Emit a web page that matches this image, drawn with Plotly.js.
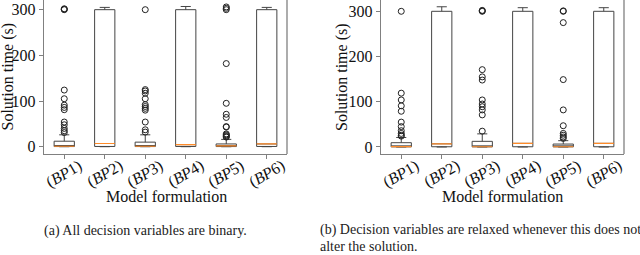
<!DOCTYPE html>
<html>
<head>
<meta charset="utf-8">
<script src="https://cdn.plot.ly/plotly-3.0.1.min.js"></script>
<style>html,body{margin:0;padding:0;background:#fff;}#chart{width:640px;height:255px;}</style>
</head>
<body>
<div id="chart"></div>
<script>
// ---- data ----
const categories = ['BP1', 'BP2', 'BP3', 'BP4', 'BP5', 'BP6'];

// (a) all decision variables binary
const aQ1 = [0.3, 0.5, 0.3, 0.5, 0.3, 0.5];
const aMedian = [1, 7, 1, 4.5, 2, 6];
const aQ3 = [12, 300, 10, 300, 6, 300];
const aLower = [0, 0, 0, 0, 0, 0];
const aUpper = [26, 305, 26, 307, 16, 305];
const aOutliers = [
  [300, 301, 302, 124, 105, 91, 86, 81, 54, 48, 40, 35, 31],
  [],
  [300, 125, 122, 117, 105, 92, 88, 84, 80, 54, 37, 32],
  [],
  [306, 303, 300, 182, 95, 71, 64, 44, 43, 28, 26, 24, 22, 21],
  []
];

// (b) decision variables relaxed
const bQ1 = [0.3, 0.5, 0.3, 0.5, 0.3, 0.5];
const bMedian = [1, 7, 0.5, 8, 0.5, 8];
const bQ3 = [9.5, 300, 12.5, 300, 6.5, 300];
const bLower = [0, 0, 0, 0, 0, 0];
const bUpper = [21, 310, 29, 308, 14, 308];
const bOutliers = [
  [300, 119, 104, 91, 79, 55, 45, 36, 30, 26, 24],
  [],
  [300, 301, 302, 171, 155, 148, 104, 95, 89, 82, 71, 35],
  [],
  [300, 301, 275, 149, 82, 47, 30, 26, 22, 19],
  []
];

const xTitle = 'Model formulation';
const yTitle = 'Solution time (s)';
const captionA = '(a) All decision variables are binary.';
const captionB1 = '(b) Decision variables are relaxed whenever this does not';
const captionB2 = 'alter the solution.';

const tickText = categories.map(c => '(<i>' + c.slice(0, 2) + '</i>' + c.slice(2) + ')');

const boxColor = '#444444';
const medianColor = '#ff8c2a';
const frameColor = '#808080';
const serif = 'Liberation Serif';
const txt = '#111';

function traces(q1, med, q3, lo, up, outl, xa, ya) {
  const ox = [], oy = [];
  outl.forEach((arr, i) => arr.forEach(v => { ox.push(categories[i]); oy.push(v); }));
  return [
    {type: 'box', x: categories, q1: q1, median: med, q3: q3, lowerfence: lo, upperfence: up,
     boxpoints: false, width: 0.5, whiskerwidth: 0.5, fillcolor: 'rgba(0,0,0,0)',
     line: {color: boxColor, width: 1}, xaxis: xa, yaxis: ya, showlegend: false, hoverinfo: 'skip'},
    {type: 'box', x: categories, q1: med, median: med, q3: med, lowerfence: med, upperfence: med,
     boxpoints: false, width: 0.5, whiskerwidth: 0, fillcolor: 'rgba(0,0,0,0)',
     line: {color: medianColor, width: 1.2}, xaxis: xa, yaxis: ya, showlegend: false, hoverinfo: 'skip'},
    {type: 'scatter', mode: 'markers', x: ox, y: oy, xaxis: xa, yaxis: ya, showlegend: false,
     marker: {symbol: 'circle-open', size: 6, color: '#222', line: {width: 1, color: '#222'}},
     hoverinfo: 'skip'}
  ];
}

const data = [].concat(
  traces(aQ1, aMedian, aQ3, aLower, aUpper, aOutliers, 'x', 'y'),
  traces(bQ1, bMedian, bQ3, bLower, bUpper, bOutliers, 'x2', 'y2')
);

function xaxis(domain, anchor) {
  return {
    domain: domain, anchor: anchor, type: 'category', range: [-0.5, 5.5],
    tickmode: 'array', tickvals: categories, showticklabels: false,
    showline: true, linecolor: frameColor, linewidth: 1.3, mirror: false,
    ticks: 'outside', ticklen: 4, tickcolor: frameColor, tickwidth: 1,
    showgrid: false, zeroline: false, automargin: false
  };
}
function yaxis(range, anchor) {
  return {
    domain: [1 - 154 / 255, 1], anchor: anchor, range: range,
    tickvals: [0, 100, 200, 300],
    showline: true, linecolor: frameColor, linewidth: 1.3, mirror: false,
    ticks: 'outside', ticklen: 4, tickcolor: frameColor, tickwidth: 1,
    showgrid: false, zeroline: false,
    tickfont: {family: serif, size: 16, color: txt},
    automargin: false
  };
}

const annotations = [];
[['x', 166], ['x2', 502]].forEach(([xr, cx]) => {
  categories.forEach((c, i) => annotations.push({
    xref: xr, yref: 'paper', x: c, y: 1 - 174 / 255, xanchor: 'center', yanchor: 'middle',
    text: tickText[i], textangle: -30, showarrow: false, font: {family: serif, size: 16, color: txt}
  }));
  annotations.push({xref: 'paper', yref: 'paper', x: cx / 640, y: 1 - 196 / 255, xanchor: 'center', yanchor: 'middle',
    text: xTitle, showarrow: false, font: {family: serif, size: 16, color: txt}});
});
[7.5, 342].forEach(cx => annotations.push({xref: 'paper', yref: 'paper', x: cx / 640, y: 1 - 77 / 255,
  xanchor: 'center', yanchor: 'middle', textangle: -90, text: yTitle, showarrow: false,
  font: {family: serif, size: 16, color: txt}}));
annotations.push(
  {xref: 'paper', yref: 'paper', x: 42 / 640, y: 1 - 230.5 / 255, xanchor: 'left', yanchor: 'middle',
   text: captionA, showarrow: false, font: {family: serif, size: 14, color: '#222'}},
  {xref: 'paper', yref: 'paper', x: 318 / 640, y: 1 - 230 / 255, xanchor: 'left', yanchor: 'middle',
   text: captionB1, showarrow: false, font: {family: serif, size: 14, color: '#222'}},
  {xref: 'paper', yref: 'paper', x: 318 / 640, y: 1 - 246.5 / 255, xanchor: 'left', yanchor: 'middle',
   text: captionB2, showarrow: false, font: {family: serif, size: 14, color: '#222'}}
);

const layout = {
  width: 640, height: 255,
  margin: {l: 0, r: 0, t: 0, b: 0},
  paper_bgcolor: '#fff', plot_bgcolor: '#fff',
  boxmode: 'overlay', hovermode: false,
  font: {family: serif},
  xaxis: xaxis([44 / 640, 287 / 640], 'y'),
  yaxis: yaxis([-16, 321.2], 'x'),
  xaxis2: xaxis([381 / 640, 624 / 640], 'y2'),
  yaxis2: yaxis([-15.5, 325], 'x2'),
  shapes: [
    {type: 'line', xref: 'paper', yref: 'paper', x0: 287 / 640, x1: 287 / 640, y0: 1 - 154 / 255, y1: 1,
     line: {color: frameColor, width: 1.3}},
    {type: 'line', xref: 'paper', yref: 'paper', x0: 624 / 640, x1: 624 / 640, y0: 1 - 154 / 255, y1: 1,
     line: {color: frameColor, width: 1.3}}
  ],
  annotations: annotations
};

Plotly.newPlot('chart', data, layout, {staticPlot: true, displayModeBar: false});
</script>
</body>
</html>
